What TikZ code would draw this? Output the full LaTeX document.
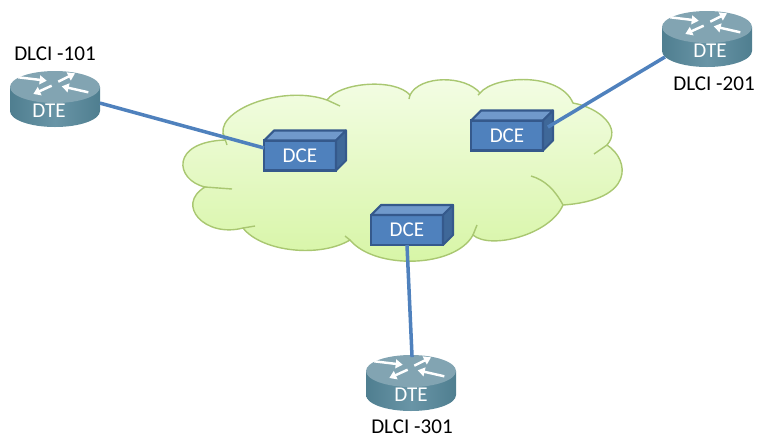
\documentclass[tikz,border=0pt]{standalone}
\usepackage{fontspec}
\setmainfont{Carlito}
\usepackage{xcolor}
\usetikzlibrary{arrows.meta,positioning,calc,backgrounds}
\definecolor{CloudTop}{HTML}{F4FDE6}
\definecolor{CloudLow}{HTML}{D6F5A4}
\definecolor{CloudLine}{HTML}{A9C771}
\definecolor{BoxFill}{HTML}{4F81BD}
\definecolor{BoxLine}{HTML}{35598C}
\definecolor{BoxTop}{HTML}{7099CB}
\definecolor{BoxSide}{HTML}{3F6899}
\definecolor{RouterEdge}{HTML}{4F7E90}
\definecolor{RouterMid}{HTML}{6995A6}
\definecolor{RouterTop}{HTML}{82A4B2}

\begin{document}
\begin{tikzpicture}[
  x=0.02cm,y=-0.02cm,
  cloudline/.style={draw=CloudLine,line width=0.8pt},
  dcebox/.style={draw=BoxLine,fill=BoxFill,line width=1.2pt,minimum width=1.44cm,minimum height=0.6cm,inner sep=0pt,outer sep=0pt,text=white,font=\fontsize{12}{14}\selectfont},
  dceface/.style={draw=BoxLine,line width=1.2pt,line join=round},
  dterouter/.style={minimum width=1.8cm,minimum height=0.64cm,inner sep=0pt,outer sep=0pt,text=white,font=\fontsize{12}{14}\selectfont},
  dlabel/.style={inner sep=0pt,text=black,font=\fontsize{12}{14}\selectfont},
  routerarrow/.style={-{Triangle[length=4pt,width=5pt]},draw=white,line width=1.4pt},
  link/.style={draw=BoxFill,line width=2pt}
]
\useasboundingbox (0,0) rectangle (768,444);

\node[dterouter] (dte101) at (55,111) {\mbox{DTE\hspace{0.24cm}}};
\node[dterouter] (dte201) at (707,51) {\hspace{0.12cm}DTE};
\node[dterouter] (dte301) at (411,395) {DTE};
\node[dlabel] (lbl101) at (55,54) {DLCI -101};
\node[dlabel] (lbl201) at (714,84) {DLCI -201};
\node[dlabel] (lbl301) at (412,427) {DLCI -301};

\node[dcebox] (dce101) at (300,155.5) {DCE};
\node[dcebox] (dce201) at (507,135.5) {DCE};
\node[dcebox] (dce301) at (407,230) {DCE};

\begin{pgfonlayer}{background}
% cloud
\draw[cloudline,top color=CloudTop,bottom color=CloudLow]
  (223,133) .. controls (220,108) and (285,85) .. (327,100)
  .. controls (340,82) and (395,78) .. (410,95)
  .. controls (420,75) and (465,75) .. (480,93)
  .. controls (495,75) and (560,72) .. (573,103)
  .. controls (600,108) and (622,128) .. (607,145)
  .. controls (630,160) and (635,200) .. (563,205)
  .. controls (550,235) and (490,250) .. (473,235)
  .. controls (455,268) and (375,270) .. (350,240)
  .. controls (320,258) and (262,252) .. (243,228)
  .. controls (205,238) and (175,205) .. (205,187)
  .. controls (175,180) and (170,142) .. (225,140) -- cycle;
\draw[cloudline] (223,133) -- (227,145);
\draw[cloudline] (327,100) -- (340,106);
\draw[cloudline] (563,205) .. controls (555,190) and (545,180) .. (531,176);
\draw[cloudline] (607,145) -- (594,154);
\draw[cloudline] (473,235) -- (477,225);
\draw[cloudline] (350,240) -- (345,236);
\draw[cloudline] (243,228) -- (255,226);
\draw[cloudline] (205,187) -- (232,189);
\draw[cloudline] (410,95) -- (409,99);
\draw[cloudline] (480,93) -- (478,95);
% routers
\foreach \n in {dte101,dte201,dte301}{
  \path[left color=RouterEdge,right color=RouterEdge,middle color=RouterMid]
    ($(\n.center)+(-45,-24)$) -- ++(0,24) arc[start angle=180,end angle=0,x radius=45,y radius=16]
    -- ++(0,-24) -- cycle;
  \path[fill=RouterTop] ($(\n.center)+(0,-24)$) ellipse[x radius=45,y radius=16];
  \draw[routerarrow] ($(\n.center)+(-36.7,-33.7)$) -- ($(\n.center)+(-8.3,-30.3)$);
  \draw[routerarrow] ($(\n.center)+(3.3,-29.3)$) -- ($(\n.center)+(20,-37.7)$);
  \draw[routerarrow] ($(\n.center)+(-3.3,-25.3)$) -- ($(\n.center)+(-21.7,-17)$);
  \draw[routerarrow] ($(\n.center)+(33.3,-18.7)$) -- ($(\n.center)+(6.7,-24.7)$);
}
\end{pgfonlayer}

\foreach \n in {dce101,dce201,dce301}{
  \draw[dceface,fill=BoxTop] (\n.north west) -- ++(10,-10) -- ++(72,0) -- (\n.north east) -- cycle;
  \draw[dceface,fill=BoxSide] (\n.north east) -- ++(10,-10) -- ++(0,30) -- (\n.south east) -- cycle;
}

\draw[link] ([yshift=4.5pt]dte101.east) -- ([yshift=4.3pt]dce101.west);
\draw[link] ([xshift=2.8pt,yshift=4.8pt]dce201.east) -- ([xshift=1.7pt,yshift=-3.4pt]dte201.west);
\draw[link] (dce301.south) -- ([xshift=0.6pt,yshift=12.5pt]dte301.north);
\end{tikzpicture}
\end{document}
